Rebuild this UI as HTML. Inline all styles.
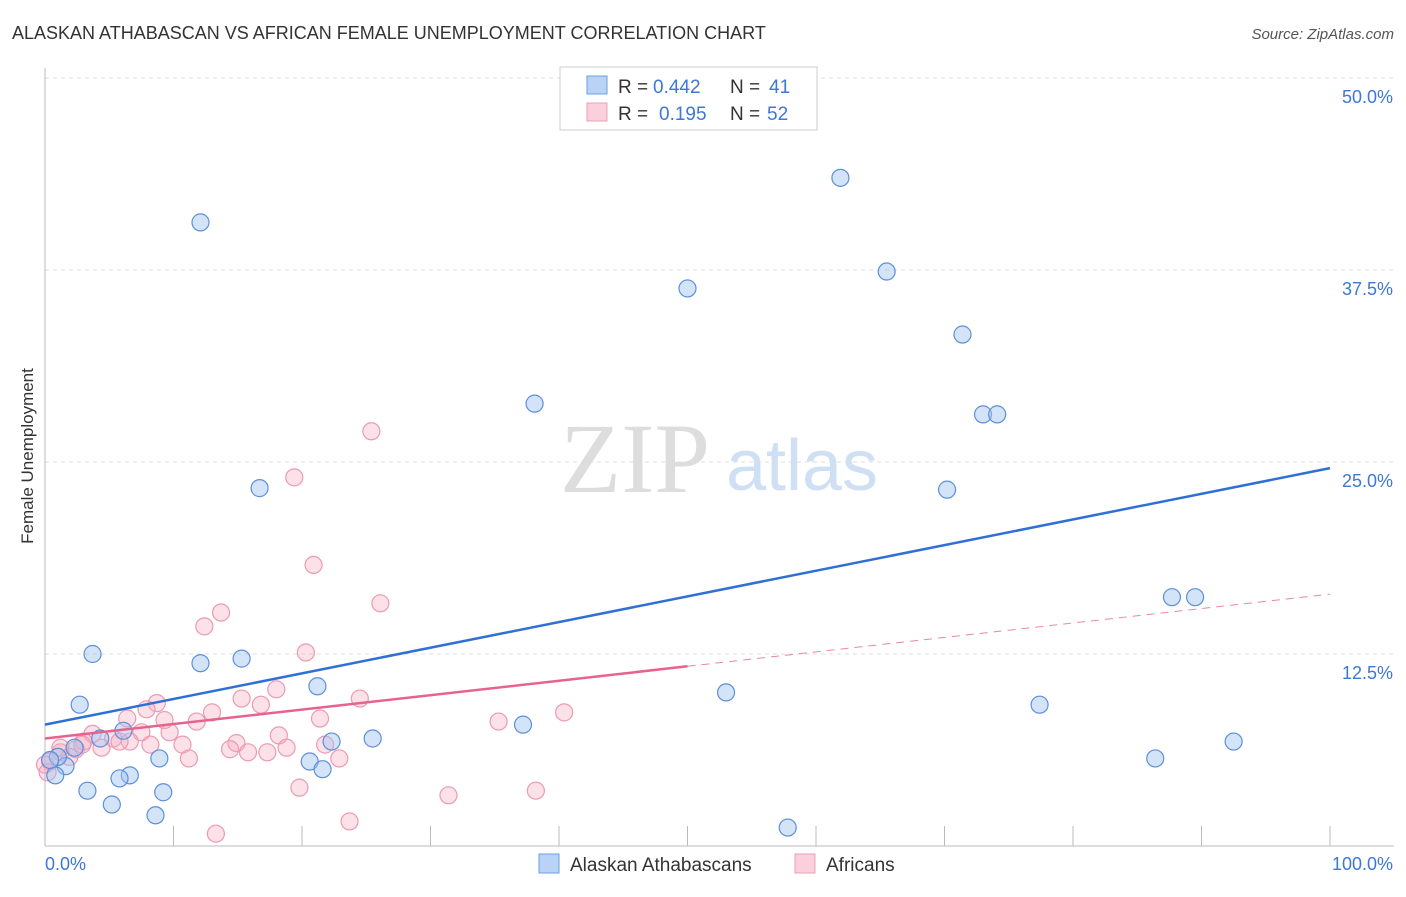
<!DOCTYPE html>
<html><head><meta charset="utf-8"><style>
body{margin:0;background:#fff;font-family:"Liberation Sans",sans-serif}
svg text{font-family:"Liberation Sans",sans-serif}
</style></head><body>
<svg id="chart" width="1406" height="892" xmlns="http://www.w3.org/2000/svg">
<text x="12" y="39" font-size="18" fill="#333">ALASKAN ATHABASCAN VS AFRICAN FEMALE UNEMPLOYMENT CORRELATION CHART</text>
<text x="1394" y="39" font-size="15" fill="#555" font-style="italic" text-anchor="end">Source: ZipAtlas.com</text>
<text transform="translate(33,456) rotate(-90)" font-size="17" fill="#333" text-anchor="middle">Female Unemployment</text>
<g>
<text x="635" y="492" font-size="100" fill="#ddd" style="font-family:'Liberation Serif',serif" text-anchor="middle">ZIP</text>
<text x="802" y="490" font-size="72" fill="#cfe0f5" style="font-family:'Liberation Sans',sans-serif" text-anchor="middle">atlas</text>
</g>
<g id="grid"></g><g id="axes"></g><g id="marks"></g><g id="lines"></g>
<g>
<rect x="560" y="67" width="257" height="63" fill="#fff" stroke="#ccc"/>
<rect x="587" y="76" width="20" height="18" fill="#b8d3f5" stroke="#6d9fe0"/>
<rect x="587" y="103" width="20" height="18" fill="#fbd0dc" stroke="#eaa0b6"/>
<text x="618" y="93" font-size="19" fill="#333">R = </text><text x="653" y="93" font-size="19" fill="#3b78d8">0.442</text>
<text x="730" y="93" font-size="19" fill="#333">N = </text><text x="769" y="93" font-size="19" fill="#3b78d8">41</text>
<text x="618" y="120" font-size="19" fill="#333">R = </text><text x="659" y="120" font-size="19" fill="#3b78d8">0.195</text>
<text x="730" y="120" font-size="19" fill="#333">N = </text><text x="767" y="120" font-size="19" fill="#3b78d8">52</text>
</g>
<g>
<rect x="539" y="854" width="20" height="19" fill="#b8d3f5" stroke="#6d9fe0"/>
<text x="570" y="871" font-size="19" fill="#333">Alaskan Athabascans</text>
<rect x="795" y="854" width="20" height="19" fill="#fbd0dc" stroke="#eaa0b6"/>
<text x="826" y="871" font-size="19" fill="#333">Africans</text>
</g>
</svg>
<script>
const blueX=[12.1,61.9,65.5,50.0,71.4,38.1,73.0,74.1,16.7,70.2,87.7,89.5,3.7,12.1,15.3,2.7,21.2,53.0,77.4,37.2,6.1,25.5,22.3,4.3,2.3,8.9,20.6,86.4,92.5,21.6,1.6,0.8,6.6,5.8,3.3,9.2,5.2,8.6,57.8,1.0,0.4];
const blueY=[40.6,43.5,37.4,36.3,33.3,28.8,28.1,28.1,23.3,23.2,16.2,16.2,12.5,11.9,12.2,9.2,10.4,10.0,9.2,7.9,7.5,7.0,6.8,7.0,6.4,5.7,5.5,5.7,6.8,5.0,5.2,4.6,4.6,4.4,3.6,3.5,2.7,2.0,1.2,5.8,5.6];
const pinkX=[25.4,19.4,20.9,26.1,13.7,12.4,20.3,18.0,15.3,8.7,16.8,7.9,13.0,6.4,9.3,21.4,24.5,35.3,40.4,11.8,7.5,9.7,3.7,18.2,5.3,14.9,6.6,3.0,8.2,10.7,21.8,4.4,14.4,17.3,15.8,18.8,11.2,22.9,2.4,1.2,1.9,0.4,0.0,0.2,19.8,31.4,38.2,23.7,13.3,2.9,1.2,5.8];
const pinkY=[27.0,24.0,18.3,15.8,15.2,14.3,12.6,10.2,9.6,9.3,9.2,8.9,8.7,8.3,8.2,8.3,9.6,8.1,8.7,8.1,7.4,7.4,7.3,7.2,7.0,6.7,6.8,6.8,6.6,6.6,6.6,6.4,6.3,6.1,6.1,6.4,5.7,5.7,6.3,6.1,5.8,5.5,5.3,4.8,3.8,3.3,3.6,1.6,0.8,6.6,6.4,6.8];
const yTicks=[12.5,25.0,37.5,50.0];
const yTickLabels=["12.5%","25.0%","37.5%","50.0%"];
const xTicks=[0,10,20,30,40,50,60,70,80,90,100];
const blueTrend=[7.9,24.6];
const pinkTrend=[7.0,16.4];
const pinkSolidEnd=50;
const NS="http://www.w3.org/2000/svg";
const sx=v=>45+v*12.85, sy=v=>846-v*15.36;
function mk(t,a,p){const e=document.createElementNS(NS,t);for(const k in a)e.setAttribute(k,a[k]);p.appendChild(e);return e;}
const grid=document.getElementById('grid'),axes=document.getElementById('axes'),marks=document.getElementById('marks'),lines=document.getElementById('lines');
yTicks.forEach((v,i)=>{
 const l=mk('line',{x1:45,x2:1394,y1:sy(v),y2:sy(v),stroke:'#ddd','stroke-dasharray':'4,4'},grid);
 
 
 const t=mk('text',{x:1393,y:sy(v)+25,'font-size':18,fill:'#3b78d8','text-anchor':'end'},axes);
 t.textContent=yTickLabels[i];
 
 
});
const ax=mk('line',{x1:45,x2:1394,y1:846,y2:846,stroke:'#bbb'},axes);


const ay=mk('line',{x1:45,x2:45,y1:68,y2:846,stroke:'#bbb'},axes);


xTicks.forEach(v=>{
 const t=mk('line',{x1:sx(v),x2:sx(v),y1:826,y2:846,stroke:'#bbb'},axes);
 
 
});
const x0=mk('text',{x:45,y:870,'font-size':18,fill:'#3b78d8'},axes);x0.textContent='0.0%';


const x1=mk('text',{x:1393,y:870,'font-size':18,fill:'#3b78d8','text-anchor':'end'},axes);x1.textContent='100.0%';


pinkX.forEach((v,i)=>{
 const c=mk('circle',{cx:sx(v),cy:sy(pinkY[i]),r:8.5,fill:'rgba(246,170,192,0.35)',stroke:'#eb9ab2','stroke-width':1.2},marks);
 
 
});
blueX.forEach((v,i)=>{
 const c=mk('circle',{cx:sx(v),cy:sy(blueY[i]),r:8.5,fill:'rgba(160,196,240,0.45)',stroke:'#5d8fd9','stroke-width':1.2},marks);
 
 
});
const bl=mk('line',{x1:sx(0),y1:sy(blueTrend[0]),x2:sx(100),y2:sy(blueTrend[1]),stroke:'#2f6fd6','stroke-width':2.5},lines);


const pm=pinkTrend[0]+(pinkTrend[1]-pinkTrend[0])*pinkSolidEnd/100;
const pl=mk('line',{x1:sx(0),y1:sy(pinkTrend[0]),x2:sx(pinkSolidEnd),y2:sy(pm),stroke:'#e8628f','stroke-width':2.5},lines);


const pd=mk('line',{x1:sx(pinkSolidEnd),y1:sy(pm),x2:sx(100),y2:sy(pinkTrend[1]),stroke:'#e8889f','stroke-width':1,'stroke-dasharray':'8,6'},lines);


</script>
</body></html>
